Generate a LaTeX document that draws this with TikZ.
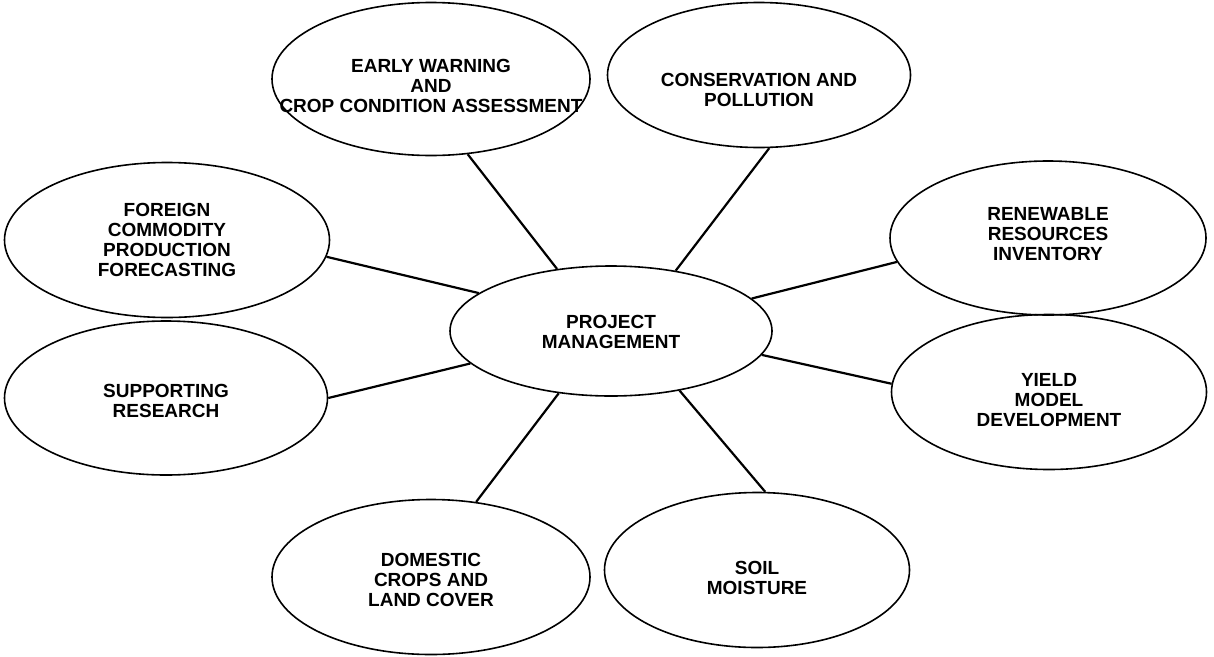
\documentclass[tikz,border=0pt]{standalone}
\usepackage{fontspec}
\setmainfont{Liberation Sans}
\usetikzlibrary{shapes.geometric}
\begin{document}
\begin{tikzpicture}[x=1pt,y=-1pt,
  ell/.style 2 args={draw, ellipse, line width=1.6pt, inner sep=0pt, minimum width=#1, minimum height=#2},
  lbl/.style={align=center, font=\fontsize{19}{20}\selectfont\bfseries, inner sep=0pt},
  link/.style={line width=2.2pt}]
\fill[white] (0,0) rectangle (1214,656);
\useasboundingbox (0,0) rectangle (1214,656);

\node[ell={322}{130}] (c) at (611,331) {};
\node[ell={318}{153}] (ew) at (431,79) {};
\node[ell={303}{145}] (cons) at (759,75) {};
\node[ell={325}{155}] (for) at (167,240) {};
\node[ell={316}{154}] (ren) at (1048,238) {};
\node[ell={323}{154}] (sup) at (166,398) {};
\node[ell={315}{155}] (yld) at (1049,392) {};
\node[ell={318}{155}] (dom) at (431,577) {};
\node[ell={305}{155}] (soil) at (757,570) {};

\node[lbl] at ([yshift=-1pt]c) {PROJECT\\MANAGEMENT};
\node[lbl] at ([yshift=-7pt]ew) {EARLY WARNING\\AND\\CROP CONDITION ASSESSMENT};
\node[lbl] at ([yshift=-15pt]cons) {CONSERVATION AND\\POLLUTION};
\node[lbl] at ([yshift=0pt]for) {FOREIGN\\COMMODITY\\PRODUCTION\\FORECASTING};
\node[lbl] at ([yshift=4pt]ren) {RENEWABLE\\RESOURCES\\INVENTORY};
\node[lbl] at ([yshift=-3pt]sup) {SUPPORTING\\RESEARCH};
\node[lbl] at ([yshift=-8pt]yld) {YIELD\\MODEL\\DEVELOPMENT};
\node[lbl] at ([yshift=-3pt]dom) {DOMESTIC\\CROPS AND\\LAND COVER};
\node[lbl] at ([yshift=-8pt]soil) {SOIL\\MOISTURE};

\draw[link] (c.131.2) -- (ew.-64.2);
\draw[link] (c.43.5) -- (cons.-82.7);
\draw[link] (c.13) -- (ren.189.4);
\draw[link] (c.-9.4) -- (yld.177.6);
\draw[link] (c.-41.3) -- (soil.84.5);
\draw[link] (c.230.4) -- (dom.59.8);
\draw[link] (c.193.9) -- (sup.0);
\draw[link] (c.164.9) -- (for.-6.2);
\end{tikzpicture}
\end{document}
